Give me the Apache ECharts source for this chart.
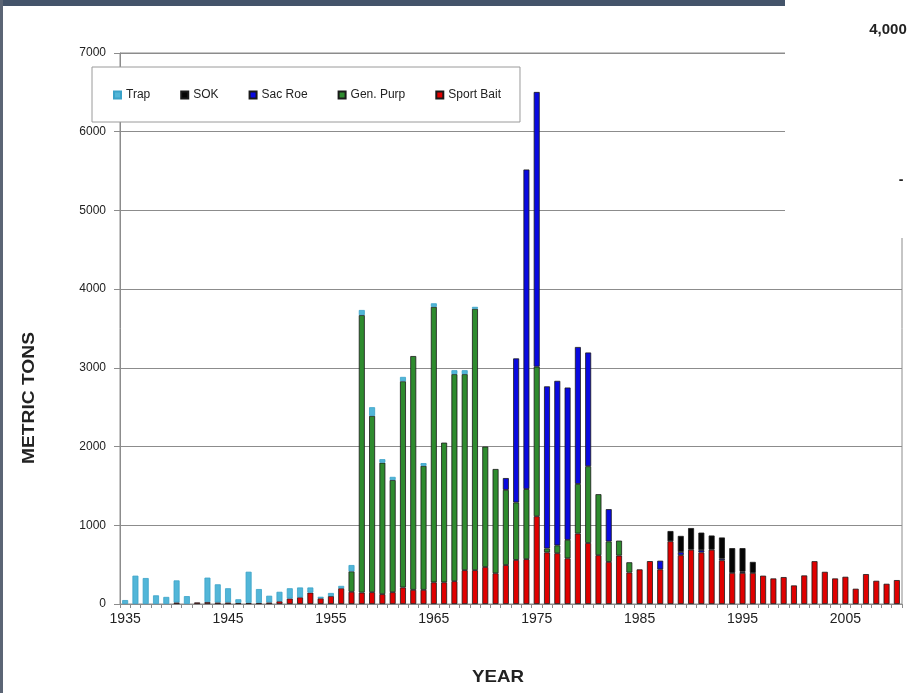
<!DOCTYPE html>
<html>
<head>
<meta charset="utf-8">
<script src="https://cdn.jsdelivr.net/npm/echarts@6/dist/echarts.min.js"></script>
<style>
html,body{margin:0;padding:0;background:#fff;}
#chart{width:918px;height:693px;}
</style>
</head>
<body>
<div id="chart"></div>
<script>
// Years 1935..2010
const years = [];
for (let y = 1935; y <= 2010; y++) years.push(String(y));

const trap = [50,360,330,110,90,280,100,0,310,230,180,45,395,175,85,120,130,125,65,20,40,30,80,65,110,45,40,55,0,35,45,0,50,50,25,0,0,0,0,0,0,0,0,0,0,0,0,0,0,0,0,0,0,0,0,0,0,0,0,0,0,0,0,0,0,0,0,0,0,0,0,0,0,0,0,0];
const sok = [0,0,0,0,0,0,0,0,0,0,0,0,0,0,0,0,0,0,0,0,0,0,0,0,0,0,0,0,0,0,0,0,0,0,0,0,0,0,0,0,0,0,0,0,0,0,0,0,0,0,0,0,0,130,205,275,222,180,270,315,300,140,0,0,0,0,0,0,0,0,0,0,0,0,0,0];
const sacRoe = [0,0,0,0,0,0,0,0,0,0,0,0,0,0,0,0,0,0,0,0,0,0,0,0,0,0,0,0,0,0,0,0,0,0,0,0,0,150,1830,4060,3490,2060,2090,1935,1740,1445,0,410,0,0,0,0,110,0,40,0,30,0,20,0,15,0,0,0,0,0,0,0,0,0,0,0,0,0,0,0];
const genPurp = [0,0,0,0,0,0,0,0,0,0,0,0,0,0,0,0,0,0,0,0,0,0,260,3525,2240,1670,1425,2620,2970,1575,3500,1775,2630,2490,3320,1530,1325,955,730,890,1900,50,100,235,630,975,775,260,190,130,0,0,0,0,0,0,0,0,0,0,0,0,0,0,0,0,0,0,0,0,0,0,0,0,0,0];
const sportBait = [0,0,0,0,0,20,0,20,25,20,20,15,15,15,20,35,70,85,145,72,100,200,155,145,150,125,150,210,180,180,275,275,290,430,430,470,390,495,560,570,1115,655,645,580,895,775,620,535,615,400,440,545,440,797,620,690,655,690,555,395,395,395,360,325,342,236,363,544,409,325,346,194,380,295,257,304];

const yTicks = [0,1000,2000,3000,4000,5000,6000,7000];
const legendNames = ['Trap','SOK','Sac Roe','Gen. Purp','Sport Bait'];

const FONT = 'Liberation Sans, Arial, sans-serif';
const chart = echarts.init(document.getElementById('chart'));
const nz = arr => arr.map(v => v === 0 ? '-' : v);
function mk(name, data, color, border) {
  return {
    name: name, type: 'bar', stack: 'total', data: nz(data),
    barWidth: '58%',
    itemStyle: {color: color, borderColor: border, borderWidth: 0.8},
    emphasis: {disabled: true}
  };
}
chart.setOption({
  animation: false,
  backgroundColor: '#ffffff',
  textStyle: {fontFamily: FONT},
  grid: {left: 120, top: 53, right: 16, bottom: 89, show: true, borderColor: '#8c8c8c', borderWidth: 1},
  legend: {
    data: legendNames, left: 92, top: 67, orient: 'horizontal',
    padding: [22, 19, 21, 21], itemGap: 30, itemWidth: 7, itemHeight: 7,
    icon: 'rect', backgroundColor: '#ffffff', borderColor: '#9a9a9a', borderWidth: 1,
    textStyle: {fontSize: 12, color: '#222', fontFamily: FONT},
    z: 20
  },
  xAxis: {
    type: 'category', data: years, boundaryGap: true,
    axisLine: {lineStyle: {color: '#8c8c8c', width: 1}},
    axisTick: {show: true, interval: 0, length: 4, lineStyle: {color: '#8c8c8c'}},
    axisLabel: {
      interval: function (i) { return i % 10 === 0; },
      fontSize: 14, color: '#222', margin: 8, fontFamily: FONT
    },
    splitLine: {show: false}
  },
  yAxis: {
    type: 'value', min: 0, max: 7000, interval: 1000,
    axisLine: {show: true, lineStyle: {color: '#8c8c8c', width: 1}},
    axisTick: {show: true, length: 6, lineStyle: {color: '#8c8c8c'}},
    axisLabel: {fontSize: 12, color: '#222', margin: 14, fontFamily: FONT,
      formatter: v => yTicks.includes(v) ? String(v) : ''},
    splitLine: {show: true, lineStyle: {color: '#8c8c8c', width: 1}}
  },
  series: [
    mk('Sport Bait', sportBait, '#e00000', '#1a1a1a'),
    mk('Gen. Purp', genPurp, '#2e8b2e', '#1a1a1a'),
    mk('Sac Roe', sacRoe, '#0a0ae0', '#1a1a1a'),
    mk('SOK', sok, '#050505', '#1a1a1a'),
    mk('Trap', trap, '#52b6d8', '#3aa2c8')
  ],
  graphic: [
    {type: 'rect', z: 100, shape: {x: 785, y: 0, width: 133, height: 238}, style: {fill: '#ffffff'}},
    {type: 'text', z: 101, style: {x: 888, y: 30, text: '4,000', fill: '#222', fontSize: 15, fontWeight: 'bold', textAlign: 'center', textVerticalAlign: 'middle', fontFamily: FONT}},
    {type: 'text', z: 101, style: {x: 901, y: 180, text: '-', fill: '#222', fontSize: 14, fontWeight: 'bold', textAlign: 'center', textVerticalAlign: 'middle', fontFamily: FONT}},
    {type: 'rect', z: 100, shape: {x: 0, y: 0, width: 785, height: 6}, style: {fill: '#44546a'}},
    {type: 'rect', z: 100, shape: {x: 0, y: 0, width: 3, height: 693}, style: {fill: '#5b6575'}},
    {type: 'text', z: 101, rotation: Math.PI / 2, x: 30, y: 398, scaleX: 1.2, style: {text: 'METRIC TONS', fill: '#222', fontSize: 16, fontWeight: 'bold', textAlign: 'center', textVerticalAlign: 'middle', fontFamily: FONT}},
    {type: 'text', z: 101, x: 498, y: 677, scaleX: 1.1, style: {text: 'YEAR', fill: '#222', fontSize: 17, fontWeight: 'bold', textAlign: 'center', textVerticalAlign: 'middle', fontFamily: FONT}}
  ]
});
</script>
</body>
</html>
